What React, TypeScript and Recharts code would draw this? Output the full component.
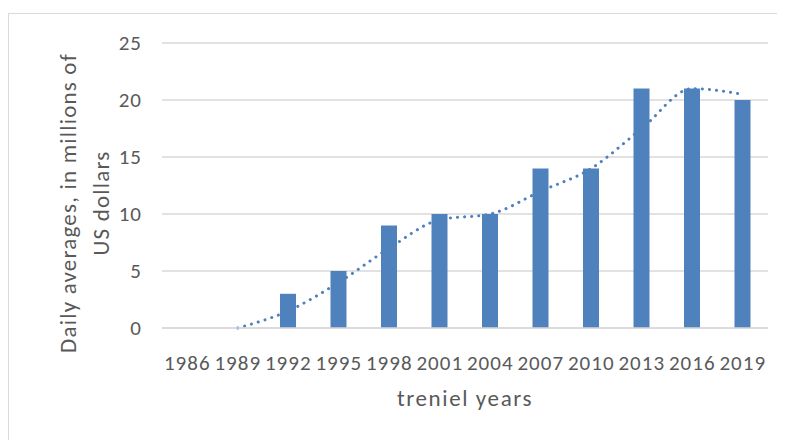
import React from 'react';
import { ComposedChart, Bar, Line, XAxis, YAxis, CartesianGrid, Label } from 'recharts';

const years = ['1986', '1989', '1992', '1995', '1998', '2001', '2004', '2007', '2010', '2013', '2016', '2019'];
const dailyAverages = [0, 0, 3, 5, 9, 10, 10, 14, 14, 21, 21, 20];
// two-period moving average trend
const trend = [null, 0, 1.5, 4, 7, 9.5, 10, 12, 14, 17.5, 21, 20.5];
const yTicks = [0, 5, 10, 15, 20, 25];

const data = years.map((y, i) => ({ year: y, value: dailyAverages[i], trend: trend[i] }));

const FONT = 'Carlito, Calibri, Lato, sans-serif';
const TEXT = '#595959';
const BLUE = '#4f81bd';

const YTitle = () => (
  <g fontFamily={FONT} fontSize={23} fill={TEXT} letterSpacing={1.2}>
    <text x={59} y={189} transform="rotate(-90 59 189)" textAnchor="middle" dominantBaseline="central">
      Daily averages, in millions of
    </text>
    <text x={92} y={189} transform="rotate(-90 92 189)" textAnchor="middle" dominantBaseline="central">
      US dollars
    </text>
  </g>
);

export default function App() {
  return (
    <div style={{ marginTop: 5, width: 790, height: 440, border: '1px solid #d9d9d9', boxSizing: 'border-box', background: '#fff' }}>
      <ComposedChart width={775} height={425} data={data} margin={{ top: 29, right: 16, left: 0, bottom: 81 }}>
        <CartesianGrid vertical={false} stroke="#d9d9d9" strokeWidth={1.3} />
        <XAxis
          dataKey="year"
          interval={0}
          tickLine={false}
          axisLine={{ stroke: '#d9d9d9', strokeWidth: 1.3 }}
          tick={{ fontFamily: FONT, fontSize: 21, fill: TEXT, dy: 19, letterSpacing: 1 }}
        >
          <Label value="treniel years" position="insideBottom" offset={-48} fontFamily={FONT} fontSize={23} fill={TEXT} letterSpacing={1.6} />
        </XAxis>
        <YAxis
          width={153}
          domain={[0, 25]}
          ticks={yTicks}
          axisLine={false}
          tickLine={false}
          tick={{ fontFamily: FONT, fontSize: 21, fill: TEXT, dx: -12, letterSpacing: 1 }}
        >
          <Label content={<YTitle />} />
        </YAxis>
        <Bar dataKey="value" fill={BLUE} barSize={16} isAnimationActive={false} />
        <Line
          dataKey="trend"
          type="monotone"
          stroke={BLUE}
          strokeWidth={3}
          strokeDasharray="0.1 7"
          strokeLinecap="round"
          dot={false}
          activeDot={false}
          connectNulls={false}
          isAnimationActive={false}
        />
      </ComposedChart>
    </div>
  );
}
